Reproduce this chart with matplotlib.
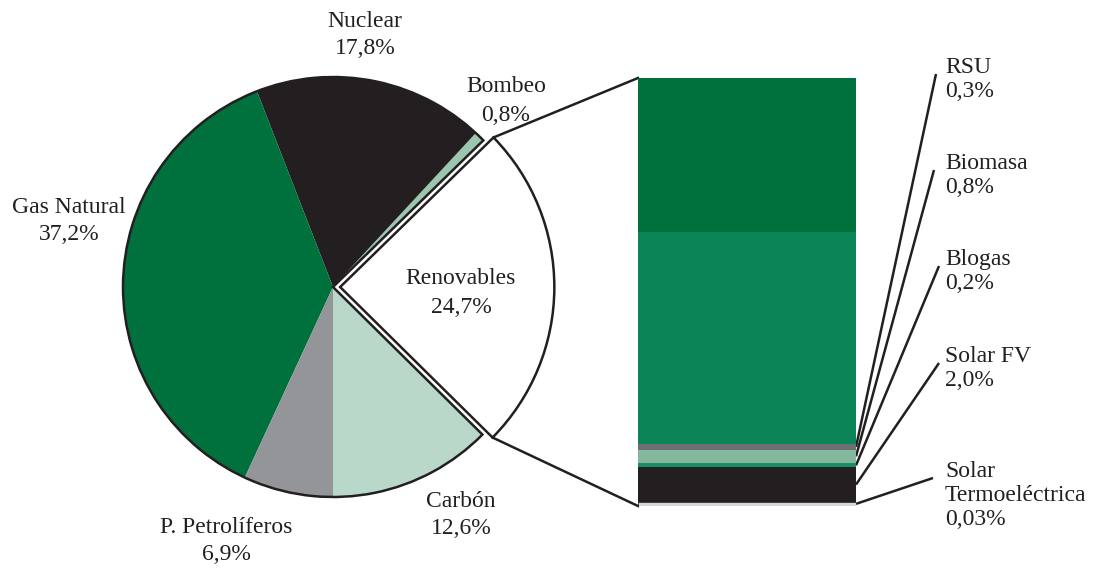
import matplotlib
matplotlib.use("Agg")
import matplotlib.pyplot as plt
from matplotlib.patches import Wedge
import numpy as np

# ---------------- data ----------------
pie_labels = ["Carbón", "Renovables", "Bombeo", "Nuclear", "Gas Natural", "P. Petrolíferos"]
pie_values = [12.6, 24.7, 0.8, 17.8, 37.2, 6.9]
pie_pct = ["12,6%", "24,7%", "0,8%", "17,8%", "37,2%", "6,9%"]
pie_colors = ["#bad8ca", "#ffffff", "#9bc7b0", "#231f20", "#00703c", "#939598"]

ren_labels = ["Hidráulica", "Eólica", "RSU", "Biomasa", "Blogas", "Solar FV", "Solar\nTermoeléctrica"]
ren_values = [9.0, 12.4, 0.3, 0.8, 0.2, 2.0, 0.03]
ren_pct = ["9,0%", "12,4%", "0,3%", "0,8%", "0,2%", "2,0%", "0,03%"]
ren_colors = ["#00713d", "#0b8457", "#6d6e71", "#84b89e", "#1e8c62", "#231f20", "#d6d6d6"]

# ---------------- layout ----------------
W, H = 1094, 573
def Y(y):
    return H - y

INK = "#231f20"
FS = 17
LW = 1.8
plt.rcParams["font.family"] = ["Liberation Serif", "DejaVu Serif"]

fig = plt.figure(figsize=(W / 100, H / 100), dpi=100)
ax = fig.add_axes([0, 0, 1, 1])

pie_center = (333, Y(287))
pie_r = 210
explode_frac = [0, 0.034, 0, 0, 0, 0]
explode = [e * pie_r for e in explode_frac]  # pie() offsets in data units
wedges, _ = ax.pie(pie_values, colors=pie_colors, startangle=-90, counterclock=True,
                   center=pie_center, radius=pie_r, explode=explode,
                   wedgeprops=dict(linewidth=0))
ax.set_xlim(0, W)
ax.set_ylim(0, H)
ax.set_aspect("equal")
ax.axis("off")

ren = wedges[1]
ren.set_radius(pie_r * 1.02)
ren.set_edgecolor(INK)
ren.set_linewidth(LW)
ren.set_zorder(3)

# outline of the rest of the pie
ax.add_patch(Wedge(pie_center, pie_r, ren.theta2, ren.theta1 + 360, fill=False,
                   edgecolor=INK, linewidth=LW, zorder=3))

# pie labels: x center, first baseline (top coords), line step
pie_label_pos = [(461, 507, 27), (461, 284, 29), (506, 92, 29),
                 (365, 27, 27), (69, 213, 27), (226, 533, 27)]
for lab, pct, (x, b, st) in zip(pie_labels, pie_pct, pie_label_pos):
    for j, line in enumerate([lab, pct]):
        ax.text(x, Y(b + j * st), line, ha="center", va="baseline",
                fontsize=FS, color=INK, zorder=5)

# ---------------- stacked bar ----------------
bx = fig.add_axes([638 / W, 67 / H, 218 / W, 428 / H])
disp = np.maximum(np.array(ren_values), 0.25)
total = disp.sum()
tops = total - np.concatenate([[0], np.cumsum(disp)[:-1]])
bottoms = tops - disp
for i in range(len(ren_values)):
    ec = INK if i == len(ren_values) - 1 else "none"
    bx.bar(0, disp[i], bottom=bottoms[i], width=1, color=ren_colors[i],
           edgecolor=ec, linewidth=0.6 if ec != "none" else 0)
bx.set_xlim(-0.5, 0.5)
bx.set_ylim(0, total)
bx.axis("off")

def b2m(x, y):
    return ax.transData.inverted().transform(bx.transData.transform((x, y)))

# inside labels
inner_pos = [(747, 123, 24), (747, 338, 24)]
for i, (x, b, st) in enumerate(inner_pos):
    for j, line in enumerate([ren_labels[i], ren_pct[i]]):
        ax.text(x, Y(b + j * st), line, ha="center", va="baseline",
                fontsize=FS, color="white", zorder=5)

# outer labels with leader lines
out_pos = [(945, 73), (945, 169), (945, 265), (945, 362), (945, 477)]
line_end_x = [936, 934, 939, 939, 933]
for k, i in enumerate(range(2, len(ren_values))):
    x, b = out_pos[k]
    lines = ren_labels[i].split("\n") + [ren_pct[i]]
    for j, line in enumerate(lines):
        ax.text(x, Y(b + j * 24), line, ha="left", va="baseline",
                fontsize=FS, color=INK, zorder=5)
    p0 = b2m(0.5, bottoms[i] + disp[i] / 2)
    ax.plot([p0[0], line_end_x[k]], [p0[1], Y(b + 1)], color=INK, lw=LW,
            solid_capstyle="butt", zorder=4)

# connection lines from Renovables wedge to bar
c = np.array(ren.center)
r = ren.r
t2 = np.deg2rad(ren.theta2)
t1 = np.deg2rad(ren.theta1)
top_corner = c + r * np.array([np.cos(t2), np.sin(t2)])
bot_corner = c + r * np.array([np.cos(t1), np.sin(t1)])
bar_tl = b2m(-0.5, total)
bar_bl = b2m(-0.5, 0)
ax.plot([top_corner[0], bar_tl[0]], [top_corner[1], bar_tl[1]], color=INK, lw=LW, zorder=4)
ax.plot([bot_corner[0], bar_bl[0]], [bot_corner[1], bar_bl[1]], color=INK, lw=LW, zorder=4)

fig.savefig("out.png", dpi=100)
